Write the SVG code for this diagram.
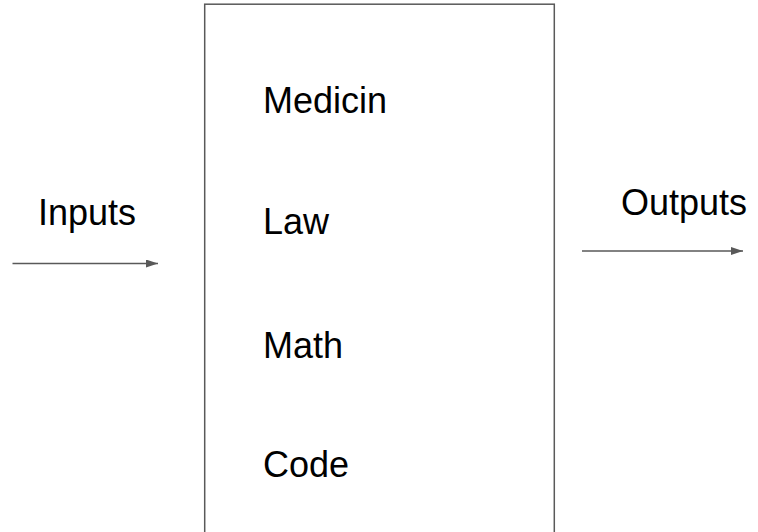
<svg xmlns="http://www.w3.org/2000/svg" width="758" height="532" viewBox="0 0 758 532">
  <style>
    .lbl { font-family: "Liberation Sans", Arial, sans-serif; font-size: 36px; fill: #000000; }
    .edge { stroke: #595959; stroke-width: 1.5; fill: none; }
    .box { stroke: #595959; stroke-width: 1.5; fill: #ffffff; }
  </style>
  <defs>
    <marker id="arrow" viewBox="0 0 12 8" refX="12" refY="4" markerWidth="12" markerHeight="8" markerUnits="userSpaceOnUse" orient="auto">
      <path d="M0,0 L12,4 L0,8 Z" fill="#595959"/>
    </marker>
  </defs>
  <rect width="758" height="532" fill="#ffffff"/>

  <g id="model">
    <rect class="box" x="204.7" y="4.2" width="349.6" height="540"/>
    <text class="lbl" x="263" y="113">Medicin</text>
    <text class="lbl" x="263" y="234">Law</text>
    <text class="lbl" x="263" y="358">Math</text>
    <text class="lbl" x="263" y="477">Code</text>
  </g>

  <g id="inputs">
    <text class="lbl" x="38" y="225">Inputs</text>
  </g>

  <g id="outputs">
    <text class="lbl" x="621" y="215">Outputs</text>
  </g>

  <g id="connectors">
    <line class="edge" x1="12.5" y1="263.5" x2="158" y2="263.5" marker-end="url(#arrow)"/>
    <line class="edge" x1="582" y1="251" x2="743" y2="251" marker-end="url(#arrow)"/>
  </g>
</svg>
